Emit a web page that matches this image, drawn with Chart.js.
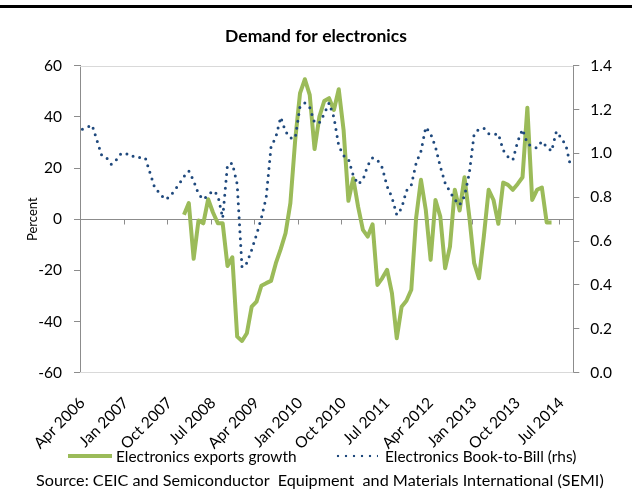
<!DOCTYPE html>
<html>
<head>
<meta charset="utf-8">
<title>Demand for electronics</title>
<script src="https://cdn.jsdelivr.net/npm/chart.js@4.4.1/dist/chart.umd.min.js"></script>
<style>
  body { margin: 0; background: #fff; }
  #wrap { position: relative; width: 632px; height: 497px; overflow: hidden; font-family: Lato, "Open Sans", sans-serif; color: #000; }
  #chartBox { position: absolute; left: 0; top: 0; width: 632px; height: 497px; }
  #rule { position: absolute; left: 0; top: 5px; width: 632px; height: 3px; background: #000; }
  .legend-item { position: absolute; top: 447px; height: 18px; display: flex; align-items: center; font-size: 15.4px; white-space: pre; }
  .swatch-line { width: 44px; height: 4px; background: #9bbb59; margin-right: 4px; }
  .swatch-dots { width: 44px; height: 4px; margin-right: 7px;
    background: radial-gradient(circle, #1f497d 1.2px, transparent 1.6px) 0 0 / 8px 4px repeat-x; }
  #source { position: absolute; left: 36px; top: 471px; font-size: 16.2px; line-height: 18px; white-space: pre; }
</style>
</head>
<body>
<div id="wrap">
  <div id="chartBox"><canvas id="myChart"></canvas></div>
  <div id="rule"></div>
  <div class="legend-item" style="left: 68px;"><span class="swatch-line"></span><span>Electronics exports growth</span></div>
  <div class="legend-item" style="left: 334px;"><span class="swatch-dots"></span><span>Electronics Book-to-Bill (rhs)</span></div>
  <div id="source">Source: CEIC and Semiconductor  Equipment  and Materials International (SEMI)</div>
</div>
<script>
// monthly data, Apr 2006 - Sep 2014
const monthNames = ['Jan', 'Feb', 'Mar', 'Apr', 'May', 'Jun', 'Jul', 'Aug', 'Sep', 'Oct', 'Nov', 'Dec'];
const months = [];
for (let i = 0; i < 102; i++) {
    const m = 3 + i;
    months.push(monthNames[m % 12] + ' ' + (2006 + Math.floor(m / 12)));
}

// labels shown under the chart (every 9 months)
const tickLabels = ['Apr 2006', 'Jan 2007', 'Oct 2007', 'Jul 2008', 'Apr 2009', 'Jan 2010',
    'Oct 2010', 'Jul 2011', 'Apr 2012', 'Jan 2013', 'Oct 2013', 'Jul 2014'];

// electronics exports growth, % y/y (left axis)
const exportsGrowth = [
    null, null, null, null, null, null, null, null, null, null,
    null, null, null, null, null, null, null, null, null, null,
    null, 1.7, 6.3, -15.5, -0.5, -1.6, 7.8, 2.6, -1.6, -1.6,
    -18.3, -14.9, -45.9, -47.6, -44.6, -34.2, -32.2, -26.0, -25.0, -24.1,
    -17.2, -11.7, -5.5, 6.3, 31.0, 49.3, 54.7, 48.6, 27.4, 40.1,
    46.2, 47.3, 42.7, 50.8, 34.9, 7.2, 16.0, 4.9, -4.2, -6.8,
    -2.0, -25.7, -23.0, -19.8, -28.9, -46.5, -34.2, -31.9, -27.6, 0.5,
    15.4, 3.6, -15.9, 7.5, 1.0, -19.2, -10.7, 11.5, 3.4, 16.4,
    1.0, -17.2, -23.1, -6.8, 11.5, 7.5, -1.8, 14.3, 13.4, 11.5,
    13.8, 16.4, 43.6, 7.5, 11.5, 12.4, -1.3, -1.3, null, null,
    null, null
];

// semiconductor equipment book-to-bill ratio (right axis)
const bookToBill = [
    1.11, 1.12, 1.13, 1.06, 0.99, 0.98, 0.95, 0.97, 1.00, 1.00,
    0.985, 0.99, 0.98, 0.98, 0.91, 0.84, 0.82, 0.79, 0.80, 0.83,
    0.86, 0.895, 0.92, 0.875, 0.815, 0.79, 0.81, 0.83, 0.81, 0.705,
    0.95, 0.955, 0.86, 0.48, 0.50, 0.56, 0.63, 0.705, 0.80, 1.03,
    1.075, 1.165, 1.10, 1.07, 1.07, 1.215, 1.23, 1.21, 1.14, 1.14,
    1.18, 1.23, 1.165, 1.035, 0.99, 0.975, 0.90, 0.86, 0.88, 0.945,
    0.98, 0.97, 0.935, 0.85, 0.80, 0.72, 0.75, 0.83, 0.855, 0.955,
    1.01, 1.12, 1.09, 1.03, 0.94, 0.865, 0.825, 0.79, 0.765, 0.805,
    0.91, 1.09, 1.11, 1.115, 1.09, 1.085, 1.09, 1.015, 0.985, 0.97,
    1.055, 1.11, 1.045, 1.03, 1.025, 1.055, 1.03, 1.01, 1.10, 1.07,
    1.035, 0.935
];

const green = '#9bbb59';
const navy = '#1f497d';
const axisGrey = '#8c8c8c';

Chart.defaults.font.family = 'Lato, "Open Sans", sans-serif';
Chart.defaults.font.size = 15.5;
Chart.defaults.color = '#000';

// zero line with tick marks, plus the top and bottom edges of the plot
const axisLines = {
    id: 'axisLines',
    beforeDatasetsDraw(chart) {
        const {ctx, chartArea: a, scales: {x, y}} = chart;
        const zeroY = Math.round(y.getPixelForValue(0)) + 0.5;
        ctx.save();
        ctx.lineWidth = 1;
        ctx.strokeStyle = '#d9d9d9';
        ctx.beginPath();
        ctx.moveTo(a.left, Math.round(a.top) + 0.5);
        ctx.lineTo(a.right, Math.round(a.top) + 0.5);
        ctx.moveTo(a.left, Math.round(a.bottom) - 0.5);
        ctx.lineTo(a.right, Math.round(a.bottom) - 0.5);
        ctx.stroke();

        ctx.strokeStyle = axisGrey;
        ctx.beginPath();
        ctx.moveTo(a.left, zeroY);
        ctx.lineTo(a.right, zeroY);
        for (let k = 9; k < months.length; k += 9) {
            const px = Math.round(x.getPixelForValue(k - 0.5)) + 0.5;
            ctx.moveTo(px, zeroY);
            ctx.lineTo(px, zeroY + 5);
        }
        ctx.stroke();
        ctx.restore();
    }
};

const ctx = document.getElementById('myChart');
const myChart = new Chart(ctx, {
    type: 'line',
    data: {
        labels: months,
        datasets: [
            {
                label: 'Electronics exports growth',
                data: exportsGrowth,
                borderColor: green,
                backgroundColor: green,
                borderWidth: 4,
                borderJoinStyle: 'round',
                pointRadius: 0,
                tension: 0,
                yAxisID: 'y',
                order: 1
            },
            {
                label: 'Electronics Book-to-Bill (rhs)',
                data: bookToBill,
                borderColor: navy,
                backgroundColor: navy,
                borderWidth: 3,
                borderDash: [0, 7],
                borderCapStyle: 'round',
                pointRadius: 0,
                tension: 0,
                yAxisID: 'y1',
                order: 0
            }
        ]
    },
    options: {
        responsive: true,
        maintainAspectRatio: false,
        animation: false,
        layout: {
            padding: { left: 0, right: 0, top: 0, bottom: 40.3 }
        },
        scales: {
            x: {
                type: 'category',
                offset: true,
                grid: { display: false, drawTicks: false },
                border: { display: false },
                afterFit: s => { s.height = 84; s.paddingLeft = 0; s.paddingRight = 0; },
                ticks: {
                    autoSkip: false,
                    minRotation: 45,
                    maxRotation: 45,
                    padding: 21,
                    font: { size: 15.5 },
                    // only every 9th month gets a label
                    callback: (val, idx) => (idx % 9 === 0 ? tickLabels[idx / 9] : null)
                }
            },
            y: {
                position: 'left',
                min: -60,
                max: 60,
                ticks: { stepSize: 20, padding: 12 },
                grid: { drawOnChartArea: false, tickLength: 6, color: axisGrey },
                border: { color: axisGrey },
                title: {
                    display: true,
                    text: 'Percent',
                    font: { size: 13 },
                    padding: { top: 25, bottom: 0 }
                },
                afterFit: s => { s.width = 80; }
            },
            y1: {
                position: 'right',
                min: 0,
                max: 1.4,
                ticks: { stepSize: 0.2, padding: 11, callback: v => v.toFixed(1) },
                grid: { drawOnChartArea: false, tickLength: 6, color: axisGrey },
                border: { color: axisGrey },
                afterFit: s => { s.width = 58.7; }
            }
        },
        plugins: {
            title: {
                display: true,
                text: 'Demand for electronics',
                color: '#000',
                font: { size: 17.5, weight: 'bold' },
                padding: { top: 25.5, bottom: 19.2 }
            },
            legend: { display: false },
            tooltip: { enabled: false }
        }
    },
    plugins: [axisLines]
});
</script>
</body>
</html>
